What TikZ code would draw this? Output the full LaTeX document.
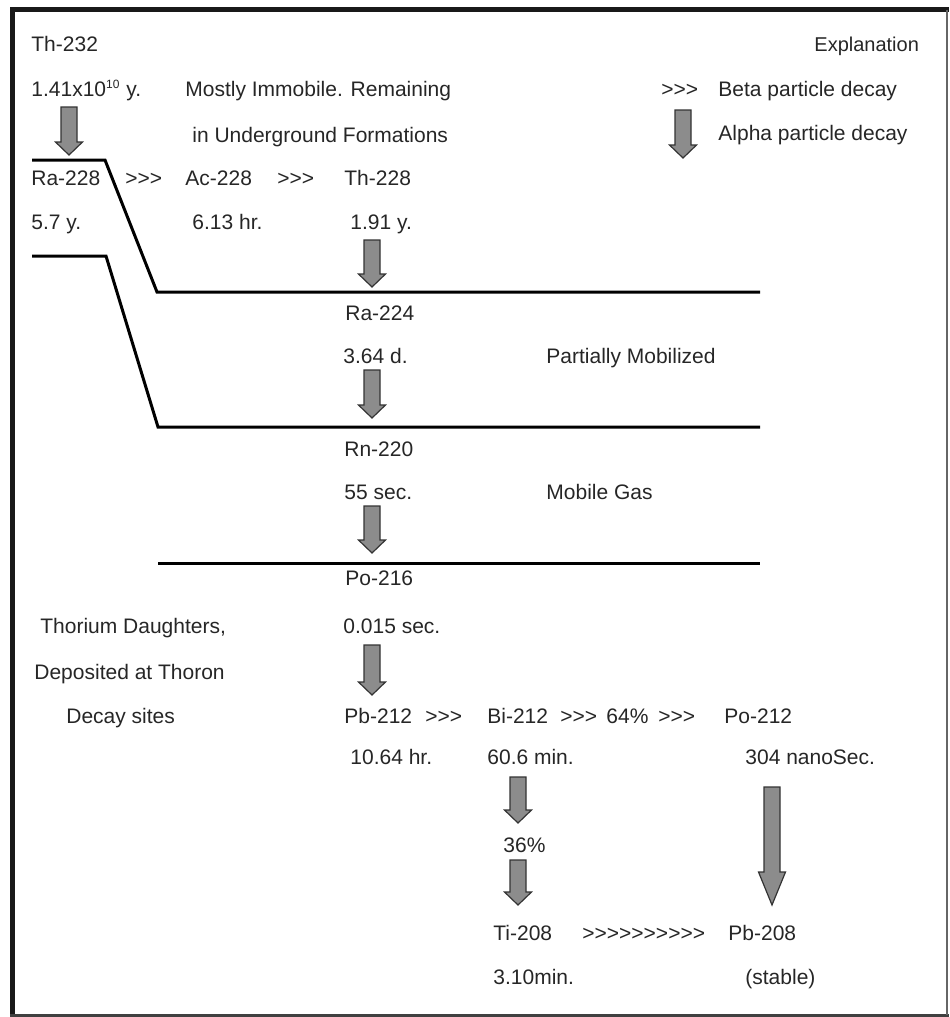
\documentclass[tikz,border=0pt]{standalone}
\usepackage{fontspec}
\setmainfont{Liberation Sans}[Ligatures=TeXOff]
\usetikzlibrary{calc}
\newcommand\gt{>\kern0pt}
\newcommand\alphadecay[3][6.5pt]{\draw[alphaarrow] let \p1=(#2), \p2=(#3) in
  (\x1-4pt,\y1) -- (\x1-4pt,\y2+#1) -- (\x1-6.75pt,\y2+#1) -- (\x1,\y2) --
  (\x1+6.75pt,\y2+#1) -- (\x1+4pt,\y2+#1) -- (\x1+4pt,\y1) -- cycle;}
\begin{document}
\begin{tikzpicture}[x=0.5pt,y=-0.5pt,
  lbl/.style={anchor=base west, inner sep=0pt, text=black!85, font=\fontsize{10.5}{12}\selectfont},
  small/.style={lbl, font=\fontsize{10}{11}\selectfont},
  rule/.style={line width=1.5pt, black, line join=miter},
  alphaarrow/.style={fill=black!45, draw=black!80, line width=0.6pt, line join=miter},
  frame/.style={line width=2.5pt, black!90}]
\useasboundingbox (0,0) rectangle (949,1017);
% frame
\draw[frame] (12.5,7) -- (12.5,1017);
\draw[frame] (10,9.5) -- (949,9.5);
\draw[line width=1.5pt, black!75] (10,1015) -- (949,1015);
\draw[line width=1pt, black!60] (947,9.5) -- (947,1015);
% boundary lines
\draw[rule] (32,160) -- (105,160) -- (157,292) -- (760,292);
\draw[rule] (32,256) -- (106,256) -- (158,427) -- (760,427);
\draw[rule] (158,563) -- (760,563);
% texts
\node[lbl] (th232) at (31,51.5) {Th-232};
\node[lbl] (th232t) at (31,96.5) {1.41x10\textsuperscript{\fontsize{6}{6}\selectfont 10} y.};
\node[lbl] (imm1) at (185,96.5) {Mostly Immobile. Remaining};
\node[lbl] (imm2) at (192,142.5) {in Underground Formations};
\node[small] (expl) at (814,51) {Explanation};
\node[lbl] (lbeta) at (661,96.5) {\gt\gt\gt};
\node[lbl] (lbetat) at (718,96.5) {Beta particle decay};
\node[lbl] (lalphat) at (718,140.5) {Alpha particle decay};
\node[lbl] (ra228) at (31,185.5) {Ra-228};
\node[lbl] (b1) at (125,185.5) {\gt\gt\gt};
\node[lbl] (ac228) at (185,185.5) {Ac-228};
\node[lbl] (b2) at (277,185.5) {\gt\gt\gt};
\node[lbl] (th228) at (344,185.5) {Th-228};
\node[lbl] (ra228t) at (31,229.5) {5.7 y.};
\node[lbl] (ac228t) at (192,229.5) {6.13 hr.};
\node[lbl] (th228t) at (350,229.5) {1.91 y.};
\node[lbl] (ra224) at (345,320.5) {Ra-224};
\node[lbl] (ra224t) at (343,363.5) {3.64 d.};
\node[lbl] (pm) at (546,363.5) {Partially Mobilized};
\node[lbl] (rn220) at (344,456.5) {Rn-220};
\node[lbl] (rn220t) at (344,499.5) {55 sec.};
\node[lbl] (mg) at (546,499.5) {Mobile Gas};
\node[lbl] (po216) at (345,585.5) {Po-216};
\node[lbl] (po216t) at (343,633.5) {0.015 sec.};
\node[lbl] (td1) at (40,633.5) {Thorium Daughters,};
\node[lbl] (td2) at (34,679.5) {Deposited at Thoron};
\node[lbl] (td3) at (66,723.5) {Decay sites};
\node[lbl] (pb212) at (344,723.5) {Pb-212};
\node[lbl] (b3) at (425,723.5) {\gt\gt\gt};
\node[lbl] (bi212) at (487,723.5) {Bi-212};
\node[lbl] (b4) at (560,723.5) {\gt\gt\gt};
\node[lbl] (p64) at (606,723.5) {64\%};
\node[lbl] (b5) at (658,723.5) {\gt\gt\gt};
\node[lbl] (po212) at (724,723.5) {Po-212};
\node[lbl] (pb212t) at (350,764.5) {10.64 hr.};
\node[lbl] (bi212t) at (487,764.5) {60.6 min.};
\node[lbl] (po212t) at (745,764.5) {304 nanoSec.};
\node[lbl] (p36) at (503,852.5) {36\%};
\node[lbl] (tl208) at (493,940.5) {Ti-208};
\node[lbl] (b6) at (582,940.5) {\gt\gt\gt\gt\gt\gt\gt\gt\gt\gt};
\node[lbl] (pb208) at (728,940.5) {Pb-208};
\node[lbl] (tl208t) at (493,984.5) {3.10min.};
\node[lbl] (pb208t) at (745,984.5) {(stable)};
% alpha decay arrows
\coordinate (a0s) at (69,107);  \coordinate (a0e) at (69,155);
\coordinate (las) at (683,110); \coordinate (lae) at (683,158);
\coordinate (a1s) at (372,240); \coordinate (a1e) at (372,287);
\coordinate (a2s) at (372,370); \coordinate (a2e) at (372,418);
\coordinate (a3s) at (372,506); \coordinate (a3e) at (372,553);
\coordinate (a4s) at (372,645); \coordinate (a4e) at (372,695);
\coordinate (a5s) at (518,777); \coordinate (a5e) at (518,823);
\coordinate (a6s) at (518,860); \coordinate (a6e) at (518,905);
\coordinate (a7s) at (772,787); \coordinate (a7e) at (772,905);
\alphadecay{a0s}{a0e}
\alphadecay{las}{lae}
\alphadecay{a1s}{a1e}
\alphadecay{a2s}{a2e}
\alphadecay{a3s}{a3e}
\alphadecay{a4s}{a4e}
\alphadecay{a5s}{a5e}
\alphadecay{a6s}{a6e}
\alphadecay[16.5pt]{a7s}{a7e}
\end{tikzpicture}
\end{document}
